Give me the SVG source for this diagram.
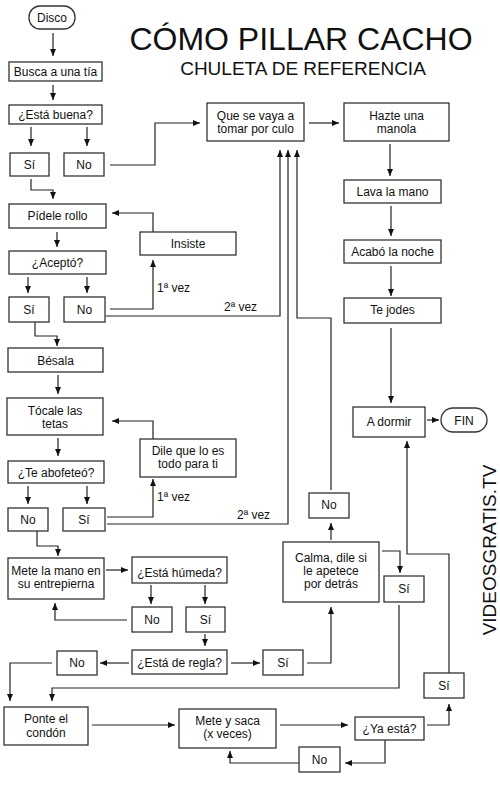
<svg xmlns="http://www.w3.org/2000/svg" width="500" height="788" viewBox="0 0 500 788">
<style>
.b{fill:#fff;stroke:#333;stroke-width:1.3}
.t{font-family:"Liberation Sans",Arial,sans-serif;font-size:12px;fill:#111;text-anchor:middle}
.l{font-family:"Liberation Sans",Arial,sans-serif;font-size:12px;fill:#111}
.c{fill:none;stroke:#222;stroke-width:1.2;marker-end:url(#a)}
.n{fill:none;stroke:#222;stroke-width:1.2}
</style>
<defs>
<marker id="a" markerUnits="userSpaceOnUse" markerWidth="7" markerHeight="6" refX="7" refY="3" orient="auto">
<path d="M0,0 L7,3 L0,6 z" fill="#111"/>
</marker>
</defs>
<rect width="500" height="788" fill="#fff"/>
<text x="301" y="50" font-family="'Liberation Sans',Arial,sans-serif" font-size="32" text-anchor="middle" fill="#111">CÓMO PILLAR CACHO</text>
<text x="303" y="75" font-family="'Liberation Sans',Arial,sans-serif" font-size="19" text-anchor="middle" fill="#111">CHULETA DE REFERENCIA</text>
<text transform="translate(496,550) rotate(-90)" font-family="'Liberation Sans',Arial,sans-serif" font-size="19" text-anchor="middle" fill="#111">VIDEOSGRATIS.TV</text>

<g id="connectors">
<path class="c" d="M53,33 V56"/>
<path class="c" d="M53,85 V100"/>
<path class="c" d="M31,127 V146"/>
<path class="c" d="M87,127 V146"/>
<path class="c" d="M110,165 H155 V123 H200"/>
<path class="c" d="M31,179 V190 H53 V199"/>
<path class="c" d="M57,232 V247"/>
<path class="c" d="M28,277 V293"/>
<path class="c" d="M87,277 V293"/>
<path class="c" d="M110,309 H153 V260"/>
<path class="c" d="M153,232 V213 H112"/>
<path class="c" d="M106,316 H280 V150"/>
<path class="c" d="M35,322 V336 H57 V346"/>
<path class="c" d="M58,375 V394"/>
<path class="c" d="M58,438 V456"/>
<path class="c" d="M28,486 V504"/>
<path class="c" d="M87,486 V504"/>
<path class="c" d="M107,517 H153 V479"/>
<path class="c" d="M153,439 V421 H112"/>
<path class="c" d="M107,524 H288 V150"/>
<path class="c" d="M37,531 V546 H58 V556"/>
<path class="c" d="M106,570 H128"/>
<path class="c" d="M151,585 V604"/>
<path class="c" d="M205,585 V604"/>
<path class="c" d="M127,620 H55 V603"/>
<path class="c" d="M205,634 V646"/>
<path class="c" d="M129,663 H100"/>
<path class="c" d="M231,663 H260"/>
<path class="c" d="M52,663 H10 V701"/>
<path class="c" d="M307,663 H331 V607"/>
<path class="c" d="M331,540 V523"/>
<path class="c" d="M331,490 V318 H297 V150"/>
<path class="c" d="M382,551 H400 V573"/>
<path class="c" d="M399,605 V688 H52 V701"/>
<path class="c" d="M92,725 H175"/>
<path class="c" d="M280,725 H348"/>
<path class="c" d="M385,740 V763 H345"/>
<path class="c" d="M299,763 H230 V751"/>
<path class="c" d="M427,725 H449 V704"/>
<path class="c" d="M449,673 V554 H407 V441"/>
<path class="c" d="M309,123 H339"/>
<path class="c" d="M390,144 V176"/>
<path class="c" d="M391,206 V236"/>
<path class="c" d="M391,266 V296"/>
<path class="c" d="M391,328 V403"/>
<path class="c" d="M427,420 H439"/>
<text class="l" x="157" y="292">1ª vez</text>
<text class="l" x="224" y="311">2ª vez</text>
<text class="l" x="157" y="501">1ª vez</text>
<text class="l" x="237" y="519">2ª vez</text>
</g>

<g id="disco"><rect class="b" x="29" y="6" width="46" height="23" rx="11"/><text class="t" x="52" y="22">Disco</text></g>
<g id="busca"><rect class="b" x="9" y="62" width="93" height="19"/><text class="t" x="55.5" y="76">Busca a una tía</text></g>
<g id="buena"><rect class="b" x="9" y="105" width="93" height="19"/><text class="t" x="55.5" y="119">¿Está buena?</text></g>
<g id="si1"><rect class="b" x="10" y="153" width="39" height="23"/><text class="t" x="29.5" y="169">Sí</text></g>
<g id="no1"><rect class="b" x="64" y="153" width="40" height="23"/><text class="t" x="84" y="169">No</text></g>
<g id="tomar"><rect class="b" x="207" y="103" width="97" height="38"/><text class="t" x="255.5" y="120">Que se vaya a</text><text class="t" x="255.5" y="133">tomar por culo</text></g>
<g id="manola"><rect class="b" x="344" y="103" width="105" height="38"/><text class="t" x="396.5" y="120">Hazte una</text><text class="t" x="396.5" y="133">manola</text></g>
<g id="lava"><rect class="b" x="344" y="180" width="97" height="23"/><text class="t" x="392.5" y="196">Lava la mano</text></g>
<g id="acabo"><rect class="b" x="344" y="240" width="97" height="23"/><text class="t" x="392.5" y="256">Acabó la noche</text></g>
<g id="jodes"><rect class="b" x="344" y="298" width="97" height="25"/><text class="t" x="392.5" y="314">Te jodes</text></g>
<g id="dormir"><rect class="b" x="353" y="407" width="72" height="30"/><text class="t" x="389" y="426">A dormir</text></g>
<g id="fin"><rect class="b" x="441" y="408" width="46" height="24" rx="12"/><text class="t" x="464" y="425">FIN</text></g>
<g id="pidele"><rect class="b" x="9" y="204" width="97" height="24"/><text class="t" x="57.5" y="220">Pídele rollo</text></g>
<g id="insiste"><rect class="b" x="140" y="232" width="96" height="23"/><text class="t" x="188" y="248">Insiste</text></g>
<g id="acepto"><rect class="b" x="9" y="251" width="97" height="23"/><text class="t" x="57.5" y="267">¿Aceptó?</text></g>
<g id="si2"><rect class="b" x="9" y="297" width="40" height="25"/><text class="t" x="29" y="314">Sí</text></g>
<g id="no2"><rect class="b" x="64" y="297" width="41" height="25"/><text class="t" x="84.5" y="314">No</text></g>
<g id="besala"><rect class="b" x="8" y="348" width="95" height="24"/><text class="t" x="55.5" y="365">Bésala</text></g>
<g id="tocale"><rect class="b" x="7" y="398" width="96" height="37"/><text class="t" x="55" y="415">Tócale las</text><text class="t" x="55" y="428">tetas</text></g>
<g id="dile"><rect class="b" x="140" y="439" width="96" height="38"/><text class="t" x="188" y="455">Dile que lo es</text><text class="t" x="188" y="468">todo para ti</text></g>
<g id="abofeteo"><rect class="b" x="8" y="461" width="96" height="22"/><text class="t" x="56" y="477">¿Te abofeteó?</text></g>
<g id="no3"><rect class="b" x="8" y="508" width="40" height="23"/><text class="t" x="28" y="524">No</text></g>
<g id="si3"><rect class="b" x="63" y="508" width="42" height="23"/><text class="t" x="84" y="524">Sí</text></g>
<g id="mete"><rect class="b" x="8" y="558" width="96" height="41"/><text class="t" x="56" y="575">Mete la mano en</text><text class="t" x="56" y="588">su entrepierna</text></g>
<g id="humeda"><rect class="b" x="132" y="557" width="95" height="26"/><text class="t" x="179.5" y="577">¿Está húmeda?</text></g>
<g id="no4"><rect class="b" x="132" y="607" width="40" height="25"/><text class="t" x="152" y="624">No</text></g>
<g id="si4"><rect class="b" x="186" y="607" width="39" height="25"/><text class="t" x="205.5" y="624">Sí</text></g>
<g id="regla"><rect class="b" x="132" y="650" width="95" height="24"/><text class="t" x="179.5" y="667">¿Está de regla?</text></g>
<g id="no5"><rect class="b" x="57" y="651" width="40" height="24"/><text class="t" x="77" y="667">No</text></g>
<g id="si5"><rect class="b" x="263" y="650" width="40" height="25"/><text class="t" x="283" y="667">Sí</text></g>
<g id="calma"><rect class="b" x="283" y="542" width="96" height="60"/><text class="t" x="331" y="562">Calma, dile si</text><text class="t" x="331" y="575">le apetece</text><text class="t" x="331" y="588">por detrás</text></g>
<g id="no6"><rect class="b" x="309" y="493" width="40" height="25"/><text class="t" x="329" y="509">No</text></g>
<g id="si6"><rect class="b" x="384" y="576" width="40" height="26"/><text class="t" x="404" y="593">Sí</text></g>
<g id="ponte"><rect class="b" x="4" y="707" width="84" height="38"/><text class="t" x="46" y="723">Ponte el</text><text class="t" x="46" y="737">condón</text></g>
<g id="metesaca"><rect class="b" x="179" y="709" width="97" height="39"/><text class="t" x="227.5" y="725">Mete y saca</text><text class="t" x="227.5" y="738">(x veces)</text></g>
<g id="yaesta"><rect class="b" x="355" y="717" width="69" height="23"/><text class="t" x="389.5" y="733">¿Ya está?</text></g>
<g id="no7"><rect class="b" x="299" y="747" width="41" height="25"/><text class="t" x="319.5" y="764">No</text></g>
<g id="si7"><rect class="b" x="424" y="673" width="40" height="25"/><text class="t" x="444" y="690">Sí</text></g>
</svg>
